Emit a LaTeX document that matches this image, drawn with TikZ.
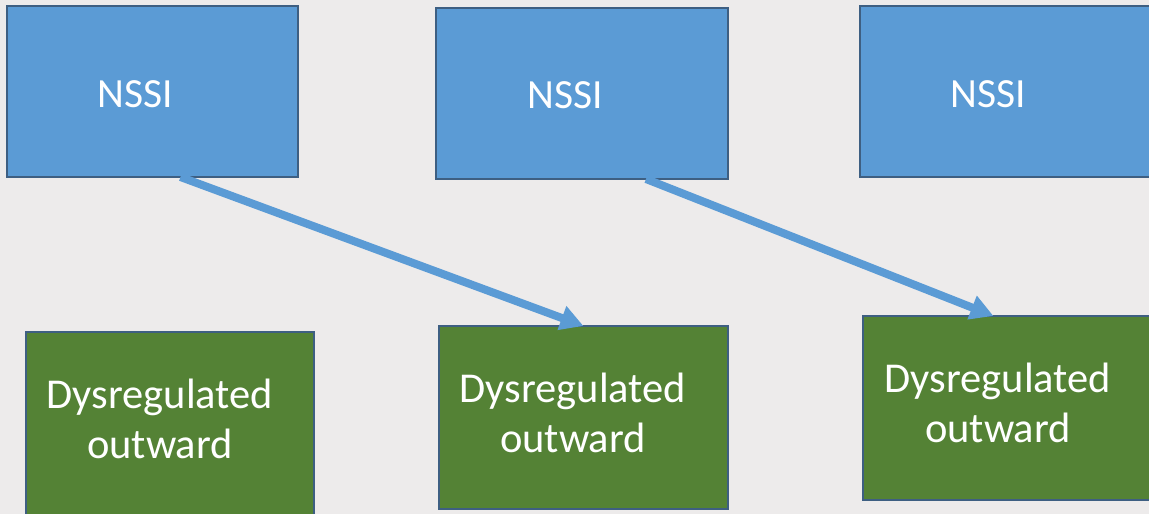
\documentclass[tikz,border=0pt]{standalone}
\usepackage{fontspec}
\setmainfont{Carlito}
\usetikzlibrary{arrows.meta,calc}
\definecolor{bgc}{HTML}{EDEBEB}
\definecolor{nblue}{HTML}{5B9BD5}
\definecolor{ngreen}{HTML}{548235}
\definecolor{edgec}{HTML}{3E5F82}
\begin{document}
\begin{tikzpicture}[x=1pt,y=-1pt,
  box/.style={draw=edgec,line width=1.3pt,inner sep=0pt,outer sep=0pt,anchor=north west},
  nssibox/.style={box,fill=nblue,minimum width=291pt,minimum height=171pt},
  dysbox/.style={box,fill=ngreen,minimum width=289pt,minimum height=184pt},
  lbl/.style={text=white,anchor=base,inner sep=0pt},
  nssitxt/.style={lbl,font=\fontsize{41.5}{50}\selectfont},
  dystxt/.style={lbl,align=center,font=\fontsize{42.5}{50}\selectfont},
  link/.style={draw=nblue,line width=8pt,-{Triangle[length=23pt,width=24pt]}}]
\path[fill=bgc,use as bounding box] (0,0) rectangle (1149,514);
\clip (0,0) rectangle (1149,514);
% top boxes
\node[nssibox] (b1) at (7,6) {};
\node[nssibox,minimum width=292pt] (b2) at (436,8) {};
\node[nssibox] (b3) at (860,6) {};
% bottom boxes
\node[dysbox,minimum width=288pt] (g1) at (26,332) {};
\node[dysbox,minimum height=183pt] (g2) at (439,326) {};
\node[dysbox] (g3) at (863,316) {};
% labels (base anchor = baseline of the last line)
\node[nssitxt] (t1) at (135,107) {NSSI};
\node[nssitxt] (t2) at (565,108) {NSSI};
\node[nssitxt] (t3) at (988,107) {NSSI};
\node[dystxt] (u1) at (160,458) {Dysregulated\\outward};
\node[dystxt] (u2) at (573,452) {Dysregulated\\outward};
\node[dystxt] (u3) at (998,442) {Dysregulated\\outward};
% connectors
\draw[link] ([xshift=28pt]b1.south) -- (g2.north);
\draw[link] ([xshift=64pt]b2.south) -- ([xshift=-14pt]g3.north);
\end{tikzpicture}
\end{document}
